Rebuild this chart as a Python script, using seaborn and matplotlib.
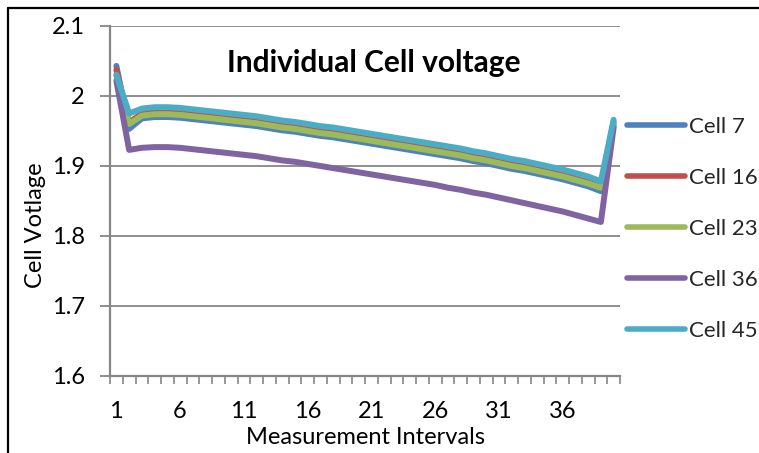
import numpy as np
import pandas as pd
import seaborn as sns
import matplotlib
matplotlib.use("Agg")
import matplotlib.pyplot as plt
from matplotlib.lines import Line2D

intervals = list(range(1, 41))
cell_7 = [2.043, 1.953, 1.968, 1.970, 1.970, 1.969, 1.967, 1.965, 1.963, 1.961,
          1.959, 1.957, 1.954, 1.951, 1.949, 1.946, 1.943, 1.941, 1.938, 1.935,
          1.932, 1.929, 1.926, 1.923, 1.920, 1.917, 1.914, 1.911, 1.907, 1.904,
          1.900, 1.896, 1.893, 1.889, 1.885, 1.881, 1.876, 1.871, 1.864, 1.958]
cell_16 = [2.037, 1.962, 1.975, 1.977, 1.977, 1.976, 1.974, 1.972, 1.970, 1.968,
           1.966, 1.964, 1.961, 1.958, 1.956, 1.953, 1.950, 1.948, 1.945, 1.942,
           1.939, 1.936, 1.933, 1.930, 1.927, 1.924, 1.921, 1.918, 1.914, 1.911,
           1.907, 1.903, 1.900, 1.896, 1.892, 1.888, 1.883, 1.878, 1.872, 1.963]
cell_23 = [2.030, 1.960, 1.972, 1.974, 1.974, 1.973, 1.971, 1.969, 1.967, 1.965,
           1.963, 1.961, 1.958, 1.955, 1.953, 1.950, 1.947, 1.945, 1.942, 1.939,
           1.936, 1.933, 1.930, 1.927, 1.924, 1.921, 1.918, 1.915, 1.911, 1.908,
           1.904, 1.900, 1.897, 1.893, 1.889, 1.885, 1.880, 1.875, 1.869, 1.962]
cell_36 = [2.022, 1.923, 1.926, 1.927, 1.927, 1.926, 1.924, 1.922, 1.920, 1.918,
           1.916, 1.914, 1.911, 1.908, 1.906, 1.903, 1.900, 1.897, 1.894, 1.891,
           1.888, 1.885, 1.882, 1.879, 1.876, 1.873, 1.869, 1.866, 1.862, 1.859,
           1.855, 1.851, 1.847, 1.843, 1.839, 1.835, 1.830, 1.825, 1.820, 1.955]
cell_45 = [2.030, 1.975, 1.982, 1.984, 1.984, 1.983, 1.981, 1.979, 1.977, 1.975,
           1.973, 1.971, 1.968, 1.965, 1.963, 1.960, 1.957, 1.955, 1.952, 1.949,
           1.946, 1.943, 1.940, 1.937, 1.934, 1.931, 1.928, 1.925, 1.921, 1.918,
           1.914, 1.910, 1.907, 1.903, 1.899, 1.895, 1.890, 1.885, 1.878, 1.966]

series_names = ["Cell 7", "Cell 16", "Cell 23", "Cell 36", "Cell 45"]
series_values = [cell_7, cell_16, cell_23, cell_36, cell_45]
colors = ["#4F81BD", "#C0504D", "#9BBB59", "#8064A2", "#4BACC6"]
y_ticks = [1.6, 1.7, 1.8, 1.9, 2.0, 2.1]
y_tick_labels = ["1.6", "1.7", "1.8", "1.9", "2", "2.1"]
x_label_values = [1, 6, 11, 16, 21, 26, 31, 36]

rows = []
for name, vals in zip(series_names, series_values):
    for i, v in zip(intervals, vals):
        rows.append({"pos": i - 1, "Interval": i, "Cell": name, "Voltage": v})
df = pd.DataFrame(rows)

sns.set_theme(style="white")
plt.rcParams['font.family'] = ['Lato', 'DejaVu Sans']
FS = 17

fig = plt.figure(figsize=(7.59, 4.53), dpi=100)
ax = fig.add_axes([110/759, 1-376/453, 510/759, 350/453])

sns.lineplot(data=df, x="pos", y="Voltage", hue="Cell", hue_order=series_names,
             palette=colors, linewidth=4.3, ax=ax, legend=False,
             solid_capstyle="round", solid_joinstyle="round")

ax.set_xlim(-0.5, len(intervals) - 0.5)
ax.set_ylim(1.6, 2.1)
ax.set_yticks(y_ticks)
ax.set_yticklabels(y_tick_labels)
ax.yaxis.grid(True, color="#868686", linewidth=1.3)
ax.set_axisbelow(True)

ax.set_xticks([intervals.index(v) for v in x_label_values])
ax.set_xticklabels([str(v) for v in x_label_values])
ax.set_xticks(np.arange(-0.5, len(intervals), 1.0), minor=True)
ax.tick_params(axis="x", which="major", length=0, pad=18, labelsize=FS, colors="black")
ax.tick_params(axis="x", which="minor", length=6, width=1.2, color="#868686", direction="out", bottom=True)
ax.tick_params(axis="y", which="major", length=7, width=1.3, color="#868686", pad=11,
               labelsize=FS, left=True, labelcolor="black")

for s in ["top", "right"]:
    ax.spines[s].set_visible(False)
for s in ["left", "bottom"]:
    ax.spines[s].set_color("#868686")
    ax.spines[s].set_linewidth(1.6)

ax.set_xlabel("Measurement Intervals", fontsize=FS, color="black")
ax.set_ylabel("Cell Votlage", fontsize=FS, color="black")
ax.xaxis.set_label_coords(0.5, -0.147)
ax.yaxis.set_label_coords(-0.125, 0.431)

fig.text(374/759, 1-63/453, "Individual Cell voltage", fontsize=21.5, fontweight="bold",
         ha="center", va="center", color="black")

handles = [Line2D([0], [0], color=c, linewidth=4, solid_capstyle="round") for c in colors]
fig.legend(handles, series_names, loc="center left", bbox_to_anchor=(627/759, 1-229/453),
           frameon=False, fontsize=16, handlelength=2.6, handletextpad=0.2,
           labelspacing=1.4, borderpad=0, borderaxespad=0)

fig.add_artist(Line2D([8/759, 8/759], [0, 1-8/453], color="black", linewidth=1.6,
                      transform=fig.transFigure))
fig.add_artist(Line2D([8/759, 1], [1-8/453, 1-8/453], color="black", linewidth=1.6,
                      transform=fig.transFigure))

fig.savefig("out.png", dpi=100)
